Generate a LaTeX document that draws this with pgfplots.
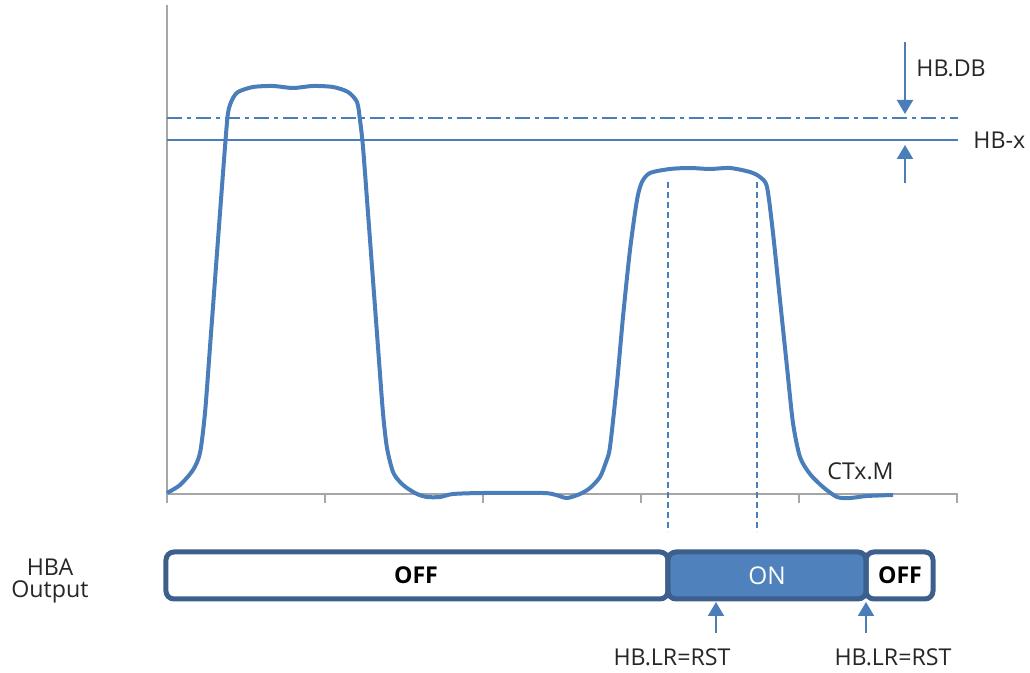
\documentclass[border=0pt]{standalone}
\usepackage{pgfplots}
\pgfplotsset{compat=1.18}
\usepackage{fontspec}
\setmainfont{Open Sans}
\usetikzlibrary{arrows.meta}
\definecolor{curve}{HTML}{4A7EBB}
\definecolor{boxedge}{HTML}{3D5F8C}
\definecolor{onfill}{HTML}{4F81BD}
\definecolor{axgray}{HTML}{A6A6A6}
\definecolor{txt}{HTML}{262626}
\begin{document}
\begin{tikzpicture}[font=\fontsize{11.6}{14}\selectfont]
\begin{axis}[
  x=0.5pt, y=0.5pt,
  xmin=167, xmax=958, ymin=175, ymax=664,
  enlargelimits=false,
  clip=false,
  axis x line*=bottom, axis y line*=left,
  axis line style={axgray, line width=1pt},
  xtick={167,325,483,641,799,957},
  xticklabels={},
  ytick=\empty,
  tick align=outside,
  major tick length=4.5pt,
  tick style={axgray, line width=0.8pt},
  xtick pos=bottom,
]
% signal curve
\addplot[curve, line width=2pt, smooth, tension=0.45] coordinates {
(167,176) (180,184) (193,199) (200,216) (205,256) (210,322) (215,389) (220,456)
(225,522) (228,556) (232,569) (238,577) (253,582) (273,583) (293,581) (313,583)
(333,582) (348,577) (357,567) (360,549) (363,522) (368,456) (373,389) (378,322)
(383,256) (387,221) (393,197) (400,187) (407,181) (417,175) (427,172) (440,172)
(453,175) (483,176) (543,176) (556,174) (567,171) (580,175) (590,181) (600,192)
(606,207) (610,222) (617,286) (623,352) (630,419) (637,469) (642,487) (650,496)
(670,500) (690,501) (710,500) (730,501) (750,497) (760,492) (767,482) (773,436)
(780,369) (787,302) (793,246) (800,212) (810,195) (823,182) (837,172) (850,171)
(867,173) (893,174)
};
% thresholds
\addplot[curve, line width=1pt, dash pattern=on 7.5pt off 2.5pt on 2pt off 2.5pt] coordinates {(167,551) (958,551)};
\addplot[curve, line width=1pt] coordinates {(167,529) (958,529)};
% vertical dashed markers
\addplot[curve, line width=0.75pt, dash pattern=on 3pt off 2pt] coordinates {(668,487) (668,137)};
\addplot[curve, line width=0.75pt, dash pattern=on 3pt off 2pt] coordinates {(757,487) (757,137)};
% deadband arrows
\draw[curve, line width=1pt, -{Triangle[width=8pt,length=7pt]}] (axis cs:905,627) -- (axis cs:905,555);
\draw[curve, line width=1pt, -{Triangle[width=8pt,length=7pt]}] (axis cs:905,486) -- (axis cs:905,524);
\node[anchor=west, text=txt, inner sep=0pt] at (axis cs:916,601) {HB.DB};
\node[anchor=west, text=txt, inner sep=0pt] at (axis cs:973,529) {HB-x};
\node[anchor=west, text=txt, inner sep=0pt] at (axis cs:827,198) {CTx.M};
% output bar
\fill[onfill, rounded corners=4pt] (axis cs:668,70) rectangle (axis cs:866,117);
\draw[boxedge, line width=2.5pt, rounded corners=4pt] (axis cs:166,70) rectangle (axis cs:668,117);
\draw[boxedge, line width=2.5pt, rounded corners=4pt] (axis cs:668,70) rectangle (axis cs:866,117);
\draw[boxedge, line width=2.5pt, rounded corners=4pt] (axis cs:866,70) rectangle (axis cs:933,117);
\node[text=black, font=\fontsize{11.6}{14}\selectfont\bfseries] at (axis cs:416,93.5) {OFF};
\node[text=white, font=\fontsize{12.2}{14}\selectfont] at (axis cs:767,93.5) {ON};
\node[text=black, font=\fontsize{11.6}{14}\selectfont\bfseries] at (axis cs:900,93.5) {OFF};
% reset arrows
\draw[curve, line width=1pt, -{Triangle[width=8pt,length=7pt]}] (axis cs:716,36) -- (axis cs:716,67);
\draw[curve, line width=1pt, -{Triangle[width=8pt,length=7pt]}] (axis cs:866,36) -- (axis cs:866,67);
\node[text=txt] at (axis cs:672,12) {HB.LR=RST};
\node[text=txt] at (axis cs:893,12) {HB.LR=RST};
\node[text=txt] at (axis cs:50,102) {HBA};
\node[text=txt] at (axis cs:50,77) {Output};
\path (axis cs:0,0) rectangle (axis cs:1030,669);
\end{axis}
\end{tikzpicture}
\end{document}
